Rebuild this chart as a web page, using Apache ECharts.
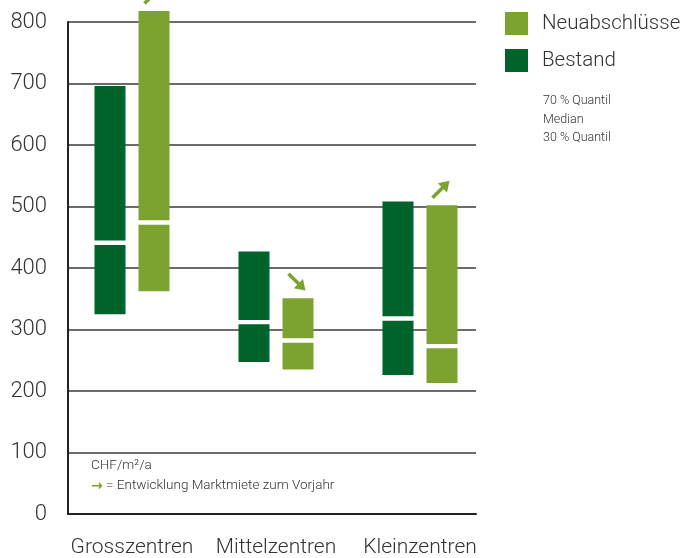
<!DOCTYPE html>
<html>
<head>
<meta charset="utf-8">
<script src="https://cdn.jsdelivr.net/npm/echarts@6/dist/echarts.min.js"></script>
<style>
  html, body { margin: 0; padding: 0; background: #fff; }
  #chart { width: 687px; height: 558px; }
</style>
</head>
<body>
<div id="chart"></div>
<script>
const categories = ["Grosszentren", "Mittelzentren", "Kleinzentren"];

// 30 % Quantil, Median, 70 % Quantil (CHF/m2/a)
const bestandLow = [325, 247, 226];
const bestandMedian = [441, 312, 318];
const bestandHigh = [696, 427, 508];

const neuLow = [362, 235, 213];
const neuMedian = [474, 282, 273];
const neuHigh = [818, 351, 502];

// Entwicklung Marktmiete zum Vorjahr
const neuTrend = ["up", "down", "up"];

const DARK = "#006329";
const LIGHT = "#7ca32f";
const TEXT = "#333";
const FONT = "Roboto";

function makeRows(low, med, high, trend) {
  return categories.map((c, i) => [i, low[i], med[i], high[i], trend ? trend[i] : ""]);
}

function boxRenderer(offset, color) {
  return function (params, api) {
    const cat = api.value(0);
    const xc = api.coord([cat, 0])[0] + offset;
    const yLow = api.coord([cat, api.value(1)])[1];
    const yMed = api.coord([cat, api.value(2)])[1];
    const yHigh = api.coord([cat, api.value(3)])[1];
    const w = 31, gap = 2.2;
    const children = [
      { type: "rect", shape: { x: xc - w / 2, y: yHigh, width: w, height: yMed - gap - yHigh }, style: { fill: color } },
      { type: "rect", shape: { x: xc - w / 2, y: yMed + gap, width: w, height: yLow - yMed - gap }, style: { fill: color } }
    ];
    const trend = api.value(4);
    if (trend === "up" || trend === "down") {
      children.push({
        type: "group",
        x: xc - 1,
        y: yHigh - 16,
        rotation: trend === "up" ? Math.PI / 4 : -Math.PI / 4,
        children: [
          { type: "line", shape: { x1: -12, y1: 0, x2: 4, y2: 0 }, style: { stroke: color, lineWidth: 3.5 } },
          { type: "polygon", shape: { points: [[12, 0], [2, -6.5], [2, 6.5]] }, style: { fill: color } }
        ]
      });
    }
    return { type: "group", children: children };
  };
}

const chart = echarts.init(document.getElementById("chart"));

chart.setOption({
  animation: false,
  grid: [
    { left: 68, top: 22, width: 408, height: 492 },
    { left: 60, top: 22, width: 432, height: 492 }
  ],
  legend: {
    orient: "vertical",
    left: 505,
    top: 12,
    padding: 0,
    itemWidth: 23,
    itemHeight: 23,
    itemGap: 14,
    icon: "rect",
    data: ["Neuabschlüsse", "Bestand"],
    textStyle: { color: TEXT, fontSize: 20.5, fontWeight: 300, fontFamily: FONT, padding: [0, 0, 0, 9] }
  },
  xAxis: [
    {
      gridIndex: 0, type: "value", min: 0, max: 1,
      axisLine: { show: true, onZero: false, lineStyle: { color: "#222", width: 2 } },
      axisTick: { show: false }, axisLabel: { show: false }, splitLine: { show: false }
    },
    {
      gridIndex: 1, type: "category", data: categories,
      axisLine: { show: false }, axisTick: { show: false },
      axisLabel: { interval: 0, color: TEXT, fontSize: 21, fontWeight: 300, fontFamily: FONT, margin: 23 }
    }
  ],
  yAxis: [
    {
      gridIndex: 0, type: "value", min: 0, max: 800, interval: 100,
      axisLine: { show: true, lineStyle: { color: "#222", width: 2 } },
      axisTick: { show: false },
      axisLabel: { color: TEXT, fontSize: 22, fontWeight: 300, fontFamily: FONT, margin: 21 },
      splitLine: { lineStyle: { color: "#3a3a3a", width: 1.5 } }
    },
    { gridIndex: 1, type: "value", min: 0, max: 800, show: false }
  ],
  series: [
    {
      name: "Neuabschlüsse", type: "custom", xAxisIndex: 1, yAxisIndex: 1,
      itemStyle: { color: LIGHT },
      renderItem: boxRenderer(22, LIGHT),
      encode: { x: 0, y: [1, 3] },
      data: makeRows(neuLow, neuMedian, neuHigh, neuTrend),
      z: 3
    },
    {
      name: "Bestand", type: "custom", xAxisIndex: 1, yAxisIndex: 1,
      itemStyle: { color: DARK },
      renderItem: boxRenderer(-22, DARK),
      encode: { x: 0, y: [1, 3] },
      data: makeRows(bestandLow, bestandMedian, bestandHigh, null),
      z: 3
    }
  ],
  graphic: [
    {
      type: "text", left: 543, top: 92,
      style: {
        text: "70 % Quantil\nMedian\n30 % Quantil",
        fill: TEXT, fontSize: 12.5, fontWeight: 300, lineHeight: 18.5, fontFamily: FONT
      }
    },
    {
      type: "text", left: 91, top: 456,
      style: {
        text: "CHF/m²/a\n{a|→} = Entwicklung Marktmiete zum Vorjahr",
        fill: TEXT, fontSize: 13.5, fontWeight: 300, lineHeight: 20, fontFamily: FONT,
        rich: { a: { fill: LIGHT, fontSize: 14, fontWeight: "bold", fontFamily: "DejaVu Sans" } }
      }
    }
  ]
});
</script>
</body>
</html>
